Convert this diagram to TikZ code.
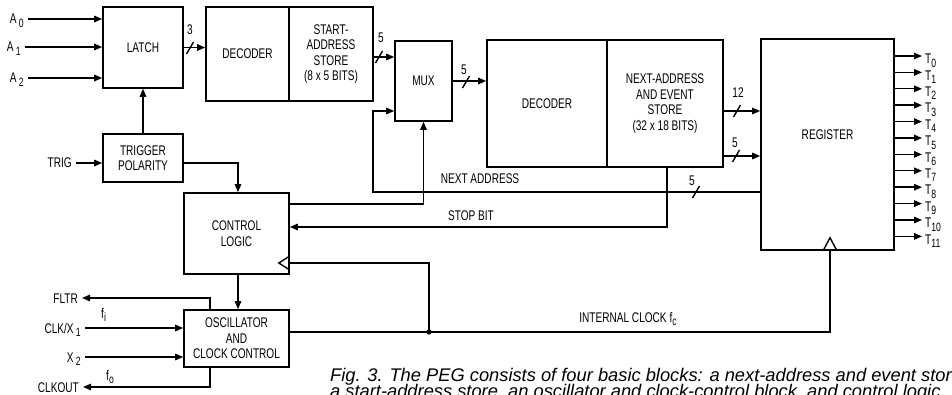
\documentclass[tikz,border=0pt]{standalone}
\usepackage{fontspec}
\usetikzlibrary{arrows.meta,calc}
\newfontfamily\labfont[FakeStretch=0.72]{Liberation Sans}
\newfontfamily\capfont{Liberation Sans}
\newcommand\dlab{\labfont\fontsize{14}{15.5}\selectfont}
\newcommand\lsub[1]{\raisebox{-3.5pt}{\fontsize{12}{12}\selectfont #1}}
\newcommand\busmark[1]{\draw[wire] (#1) ++(-3.5,6) -- ++(7,-12);}
\begin{document}
\begin{tikzpicture}[x=1pt,y=-1pt,
  box/.style={draw, line width=1.6pt, align=center, inner sep=0pt, font=\dlab},
  wire/.style={line width=1.4pt},
  arr/.style={wire, -{Triangle[length=8pt,width=6.5pt]}},
  lbl/.style={inner sep=0pt, font=\dlab},
  inl/.style={lbl, inner xsep=4pt, anchor=base east},
  capt/.style={anchor=base west, inner sep=0pt, font=\capfont\itshape\fontsize{18.3}{18.3}\selectfont}]
\useasboundingbox (0,0) rectangle (952,395);
\clip (0,0) rectangle (952,395);

% blocks
\node[box,minimum width=80pt,minimum height=81pt] (latch) at (143,47.5) {LATCH};
\node[box,minimum width=83pt,minimum height=94pt] (dec1) at (247.5,54) {DECODER};
\node[box,minimum width=84pt,minimum height=94pt] (sas) at (331,54) {START-\\ADDRESS\\STORE\\(8 x 5 BITS)};
\node[box,minimum width=57pt,minimum height=80pt] (mux) at (423.5,81) {MUX};
\node[box,minimum width=120pt,minimum height=127pt] (dec2) at (547,103.5) {DECODER};
\node[box,minimum width=116pt,minimum height=127pt] (nas) at (665,103.5) {NEXT-ADDRESS\\AND EVENT\\STORE\\(32 x 18 BITS)};
\node[box,minimum width=133pt,minimum height=211pt] (reg) at (827.5,144.5) {};
\node[lbl] (regt) at (827.5,135) {REGISTER};
\node[box,minimum width=80pt,minimum height=48pt] (trig) at (143,158) {TRIGGER\\POLARITY};
\node[box,minimum width=105pt,minimum height=81pt] (ctrl) at (236.5,233.5) {CONTROL\\LOGIC};
\node[box,minimum width=105pt,minimum height=57pt] (osc) at (236.5,338.5) {OSCILLATOR\\AND\\CLOCK CONTROL};

% level coordinates
\coordinate (yA0) at (0,19);
\coordinate (yA1) at (0,47);
\coordinate (yA2) at (0,78);
\coordinate (yTR) at (0,163);
\coordinate (yF) at (0,298);
\coordinate (yCX) at (0,328);
\coordinate (yX2) at (0,357);
\coordinate (yCO) at (0,387);
\coordinate (smy) at (0,57);
\coordinate (y12) at (0,111);
\coordinate (y5r) at (0,156);
\coordinate (yNA) at (0,192);
\coordinate (yNB) at (0,111);
\coordinate (xNA) at (373,0);
\coordinate (xSB) at (667,0);
\coordinate (ySB) at (0,227);
\coordinate (yCM) at (0,204);
\coordinate (yCC) at (0,263);
\coordinate (yIC) at (0,332);
\coordinate (xCK) at (830,0);
\coordinate (xDot) at (429,0);
\coordinate (xTC) at (238,0);
\coordinate (xF) at (210,0);

% input labels
\node[inl] (a0) at (28,24) {A\,\lsub{0}};
\node[inl] (a1) at (25,52) {A\,\lsub{1}};
\node[inl] (a2) at (28,83) {A\,\lsub{2}};
\node[inl] (trl) at (76,168) {TRIG};
\node[inl] (fltr) at (82,303) {FLTR};
\node[inl] (clkx) at (85,333) {CLK/X\,\lsub{1}};
\node[inl] (x2) at (85,362) {X\,\lsub{2}};
\node[inl] (clko) at (83,392) {CLKOUT};
\node[lbl,anchor=base west] (fi) at (101,318) {f\lsub{i}};
\node[lbl,anchor=base west] (fo) at (106,380) {f\lsub{o}};

% input connectors
\draw[arr] (a0.east |- yA0) -- (latch.west |- yA0);
\draw[arr] (a1.east |- yA1) -- (latch.west |- yA1);
\draw[arr] (a2.east |- yA2) -- (latch.west |- yA2);
\draw[arr] (trl.east |- yTR) -- (trig.west |- yTR);
\draw[arr] (clkx.east |- yCX) -- (osc.west |- yCX);
\draw[arr] (x2.east |- yX2) -- (osc.west |- yX2);
\draw[arr] (osc.north -| xF) |- (fltr.east |- yF);
\draw[arr] (osc.south -| xF) |- (clko.east |- yCO);

% internal connectors
\draw[arr] (latch.east) -- (latch.east -| dec1.west);
\draw[arr] (sas.east |- smy) -- (mux.west |- smy);
\draw[arr] (mux.east) -- (mux.east -| dec2.west);
\draw[arr] (nas.east |- y12) -- (reg.west |- y12);
\draw[arr] (nas.east |- y5r) -- (reg.west |- y5r);
\draw[arr] (trig.north) -- (latch.south);
\draw[arr] (trig.east |- yTR) -| (xTC |- ctrl.north);
\draw[arr] (ctrl.south -| xTC) -- (osc.north -| xTC);
\draw[arr] (reg.west |- yNA) -| (xNA |- yNB) -- (mux.west |- yNB);
\draw[arr] (nas.south -| xSB) |- (ctrl.east |- ySB);
\draw[arr] (ctrl.east |- yCM) -| (mux.south);

% clock
\coordinate (ckin) at (reg.south -| xCK);
\draw[wire] (osc.east |- yIC) -| (ckin);
\draw[wire] ([xshift=-7pt]ckin) -- ([yshift=13pt]ckin) -- ([xshift=7pt]ckin);
\coordinate (dot) at (xDot |- yIC);
\fill (dot) circle (2.7pt);
\coordinate (ccin) at (ctrl.east |- yCC);
\draw[wire] (dot) |- (ccin);
\draw[wire] ([yshift=7pt]ccin) -- ([xshift=-11pt]ccin) -- ([yshift=-7pt]ccin);

% bus marks
\coordinate (s1) at (190,48);
\coordinate (s2) at (379,57);
\coordinate (s3) at (466,82);
\coordinate (s4) at (737,111);
\coordinate (s5) at (736,156);
\coordinate (s6) at (696,192);
\busmark{s1}
\busmark{s2}
\busmark{s3}
\busmark{s4}
\busmark{s5}
\busmark{s6}
\node[lbl] (b1) at (190,30) {3};
\node[lbl] (b2) at (381,38) {5};
\node[lbl] (b3) at (464,70) {5};
\node[lbl] (b4) at (738,93) {12};
\node[lbl] (b5) at (735,143) {5};
\node[lbl] (b6) at (692,181) {5};

% signal labels
\node[lbl] (nal) at (480,179) {NEXT ADDRESS};
\node[lbl] (sbl) at (471,216) {STOP BIT};
\node[lbl,anchor=base] (icl) at (628,322) {INTERNAL CLOCK f\lsub{c}};

% outputs
\foreach \i [evaluate=\i as \yy using 56+16.4*\i] in {0,...,11} {
  \node[lbl,inner xsep=3pt,anchor=base west] (t\i) at (922,\yy+7.7) {T\lsub{\i}};
  \draw[arr] (reg.east |- 0,\yy) -- (t\i.west |- 0,\yy);
}

% caption
\node[capt] (cap1) at (330,381) {Fig. 3. The PEG consists of four basic blocks: a next-address and event store,};
\node[capt] (cap2) at (330,397.5) {a start-address store, an oscillator and clock-control block, and control logic.};
\end{tikzpicture}
\end{document}
